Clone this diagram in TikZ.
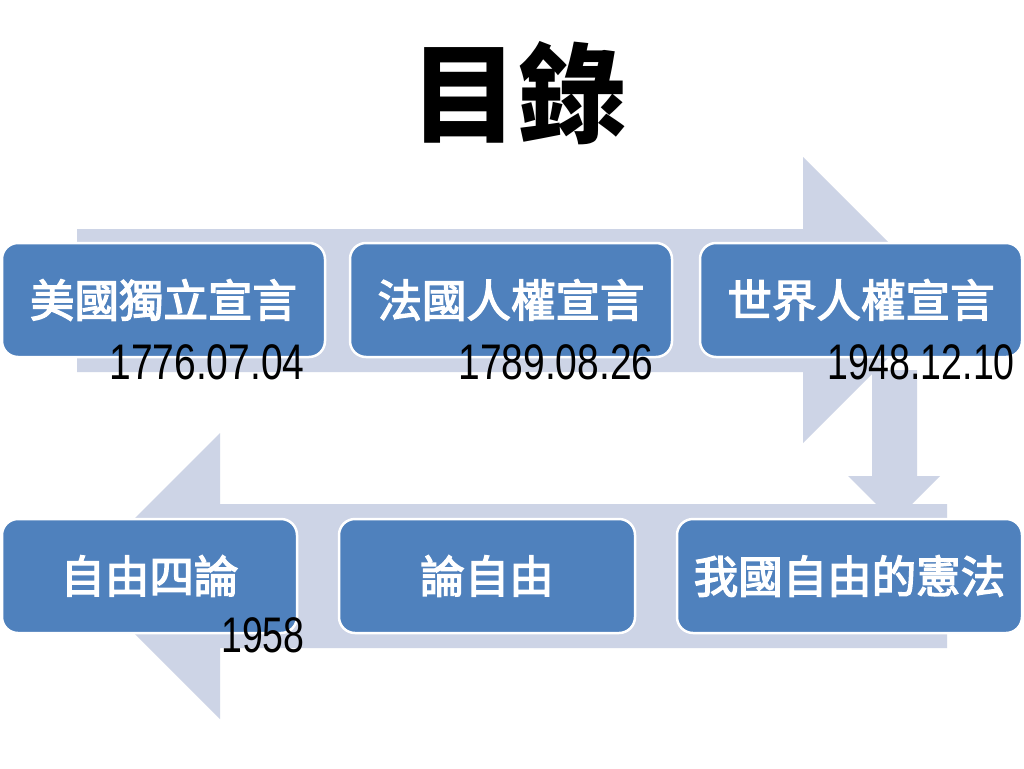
\documentclass[tikz,border=0pt]{standalone}
\usepackage{fontspec}
\setmainfont{Liberation Sans}
\newfontfamily\cjk{Noto Sans CJK TC}
\newfontfamily\cjkm[FakeBold=3]{Noto Sans CJK TC}
\definecolor{bandc}{HTML}{CDD4E6}
\definecolor{boxblue}{HTML}{4F81BD}
\begin{document}
\begin{tikzpicture}[x=1pt,y=-1pt,
  bandshape/.style={fill=bandc,draw=none},
  itembox/.style={rectangle,rounded corners=16pt,fill=boxblue,draw=white,line width=2.5pt,
    text=white,font=\cjkm\fontsize{44.5}{44.5}\selectfont,inner sep=0pt,
    minimum height=114pt},
  datelabel/.style={font=\fontsize{50}{50}\selectfont,text=black,inner sep=0pt},
  titlelabel/.style={font=\cjk\bfseries\fontsize{108}{108}\selectfont,text=black,inner sep=0pt}]
\useasboundingbox (0,0) rectangle (1024,768);
\fill[white] (0,0) rectangle (1024,768);

% title
\node[titlelabel] (title) at (518,93) {目錄};

% background arrows
\path[bandshape] (77,229) -- (803,229) -- (803,157) -- (946,300) -- (803,443) -- (803,372) -- (77,372) -- cycle;
\path[bandshape] (872,370) -- (917,370) -- (917,476) -- (940,476) -- (894,522) -- (848,476) -- (872,476) -- cycle;
\path[bandshape] (947,504) -- (220,504) -- (220,433) -- (77,576) -- (220,719) -- (220,648) -- (947,648) -- cycle;

% boxes
\node[itembox,minimum width=323pt] (b1) at (163.5,300) {美國獨立宣言};
\node[itembox,minimum width=322pt] (b2) at (511,300) {法國人權宣言};
\node[itembox,minimum width=322pt] (b3) at (861,300) {世界人權宣言};
\node[itembox,minimum width=295pt] (b4) at (149.5,576) {自由四論};
\node[itembox,minimum width=296pt] (b5) at (487,576) {論自由};
\node[itembox,minimum width=345pt] (b6) at (849.5,576) {我國自由的憲法};

% dates
\node[datelabel] (d1) at (207,362) {\scalebox{0.78}[1]{1776.07.04}};
\node[datelabel] (d2) at (556,362) {\scalebox{0.78}[1]{1789.08.26}};
\node[datelabel] (d3) at (921,362) {\scalebox{0.75}[1]{1948.12.10}};
\node[datelabel] (d4) at (263,635) {\scalebox{0.75}[1]{1958}};
\end{tikzpicture}
\end{document}
